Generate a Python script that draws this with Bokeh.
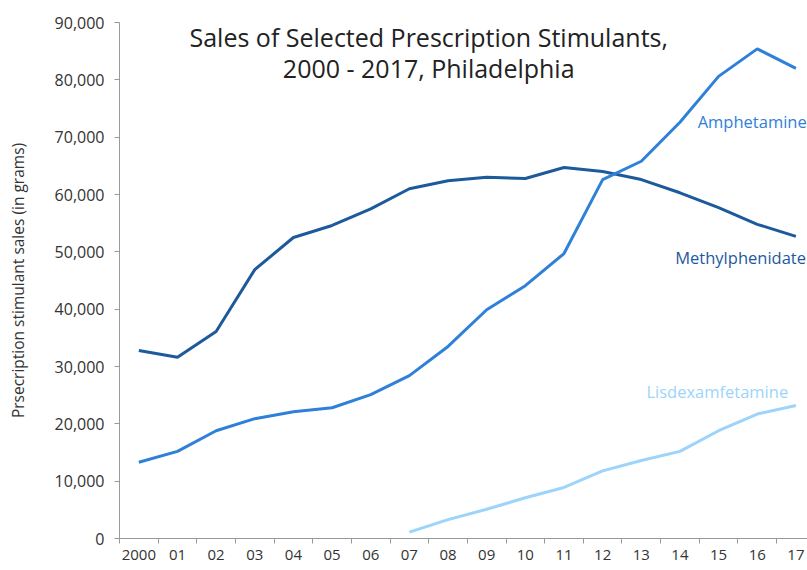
from bokeh.plotting import figure
from bokeh.models import Range1d, FixedTicker, NumeralTickFormatter, Label
from bokeh.embed import file_html
from bokeh.resources import INLINE
import numpy as np

years = ["2000", "01", "02", "03", "04", "05", "06", "07", "08", "09",
         "10", "11", "12", "13", "14", "15", "16", "17"]
methylphenidate = [32800, 31600, 36100, 46900, 52500, 54600, 57500, 61000, 62400,
                   63000, 62800, 64700, 64000, 62600, 60300, 57700, 54800, 52700]
amphetamine = [13300, 15200, 18800, 20900, 22100, 22800, 25100, 28400, 33500,
               39900, 44100, 49700, 62600, 65800, 72600, 80600, 85400, 82000]
lisdexamfetamine = [None, None, None, None, None, None, None, 1100, 3300, 5100,
                    7100, 8900, 11800, 13600, 15200, 18800, 21700, 23200]
y_ticks = [0, 10000, 20000, 30000, 40000, 50000, 60000, 70000, 80000, 90000]

FONT = "Open Sans"
C_METH = "#1d5a9c"
C_AMPH = "#2f80d8"
C_LISD = "#9dd4fb"

x = list(range(len(years)))

p = figure(width=807, height=570, output_backend="svg", toolbar_location=None,
           x_range=Range1d(-0.5, 17.3), y_range=Range1d(0, 90000),
           min_border_left=119, min_border_right=0, min_border_top=22,
           min_border_bottom=32)
p.outline_line_color = None
p.xgrid.grid_line_color = None
p.ygrid.grid_line_color = None
p.background_fill_color = "white"
p.border_fill_color = "white"

lis = [np.nan if v is None else v for v in lisdexamfetamine]
p.line(x, methylphenidate, line_color=C_METH, line_width=3)
p.line(x, amphetamine, line_color=C_AMPH, line_width=3)
p.line(x, lis, line_color=C_LISD, line_width=3)

# axes
xa = p.xaxis[0]
xa.ticker = FixedTicker(ticks=x, minor_ticks=[i - 0.5 for i in range(len(years) + 1)])
xa.major_label_overrides = {i: lab for i, lab in enumerate(years)}
xa.major_tick_line_color = None
xa.major_tick_out = 0
xa.major_tick_in = 0
xa.minor_tick_line_color = "#999999"
xa.minor_tick_out = 5
xa.minor_tick_in = 0
xa.axis_line_color = "#999999"
xa.major_label_text_font = FONT
xa.major_label_text_font_size = "15px"
xa.major_label_text_color = "#333333"
xa.major_label_standoff = 6

ya = p.yaxis[0]
ya.ticker = FixedTicker(ticks=y_ticks)
ya.formatter = NumeralTickFormatter(format="0,0")
ya.minor_tick_line_color = None
ya.major_tick_line_color = "#999999"
ya.major_tick_out = 5
ya.major_tick_in = 0
ya.axis_line_color = "#999999"
ya.major_label_text_font = FONT
ya.major_label_text_font_size = "16px"
ya.major_label_text_color = "#333333"
ya.major_label_standoff = 10
ya.axis_label = "Prsecription stimulant sales (in grams)"
ya.axis_label_text_font = FONT
ya.axis_label_text_font_size = "15.5px"
ya.axis_label_text_font_style = "normal"
ya.axis_label_text_color = "#333333"
ya.axis_label_standoff = 23

# title
for ty, txt in [(87500, "Sales of Selected Prescription Stimulants,"),
                (82000, "2000 - 2017, Philadelphia")]:
    p.add_layout(Label(x=7.5, y=ty, text=txt, text_align="center",
                       text_baseline="middle", text_font=FONT,
                       text_font_size="25px", text_color="#222222"))

# series labels
for lx, ly, txt, col in [(17.28, 72700, "Amphetamine", C_AMPH),
                         (17.26, 49000, "Methylphenidate", C_METH),
                         (16.8, 25600, "Lisdexamfetamine", C_LISD)]:
    p.add_layout(Label(x=lx, y=ly, text=txt, text_align="right",
                       text_baseline="middle", text_font=FONT,
                       text_font_size="16.5px", text_color=col))

open("out.html", "w").write(file_html(p, INLINE))
